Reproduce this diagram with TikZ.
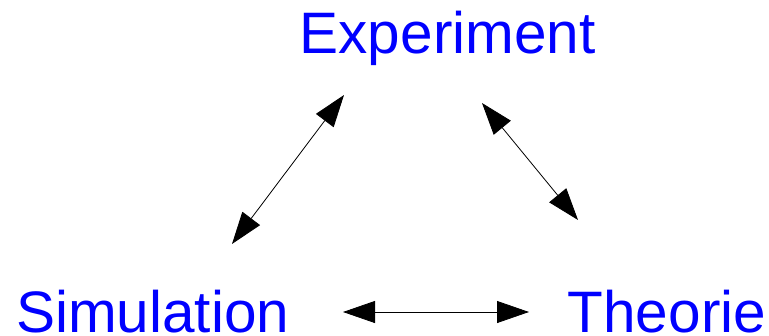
\documentclass[tikz,border=0pt]{standalone}
\usepackage{fontspec}
\setmainfont{Liberation Sans}
\usetikzlibrary{arrows.meta}
\definecolor{labelblue}{RGB}{0,0,255}
\begin{document}
\begin{tikzpicture}[x=1pt,y=-1pt,
  lbl/.style={anchor=base west,inner sep=0pt,text=labelblue,font=\fontsize{58.5}{61}\selectfont},
  biarrow/.style={line width=0.8pt,{Triangle[length=32pt,width=22pt]}-{Triangle[length=32pt,width=22pt]}}]
\useasboundingbox (0,0) rectangle (769,335);
\node[lbl] (exp) at (299.5,53) {Experiment};
\node[lbl] (sim) at (16,332) {Simulation};
\node[lbl] (the) at (567.5,332) {Theorie};
\coordinate (a1) at (344,95);
\coordinate (a2) at (232,244);
\coordinate (b1) at (482,103);
\coordinate (b2) at (578,220);
\coordinate (c1) at (343,312);
\coordinate (c2) at (529,312);
\draw[biarrow] (a1) -- (a2);
\draw[biarrow] (b1) -- (b2);
\draw[biarrow] (c1) -- (c2);
\end{tikzpicture}
\end{document}
